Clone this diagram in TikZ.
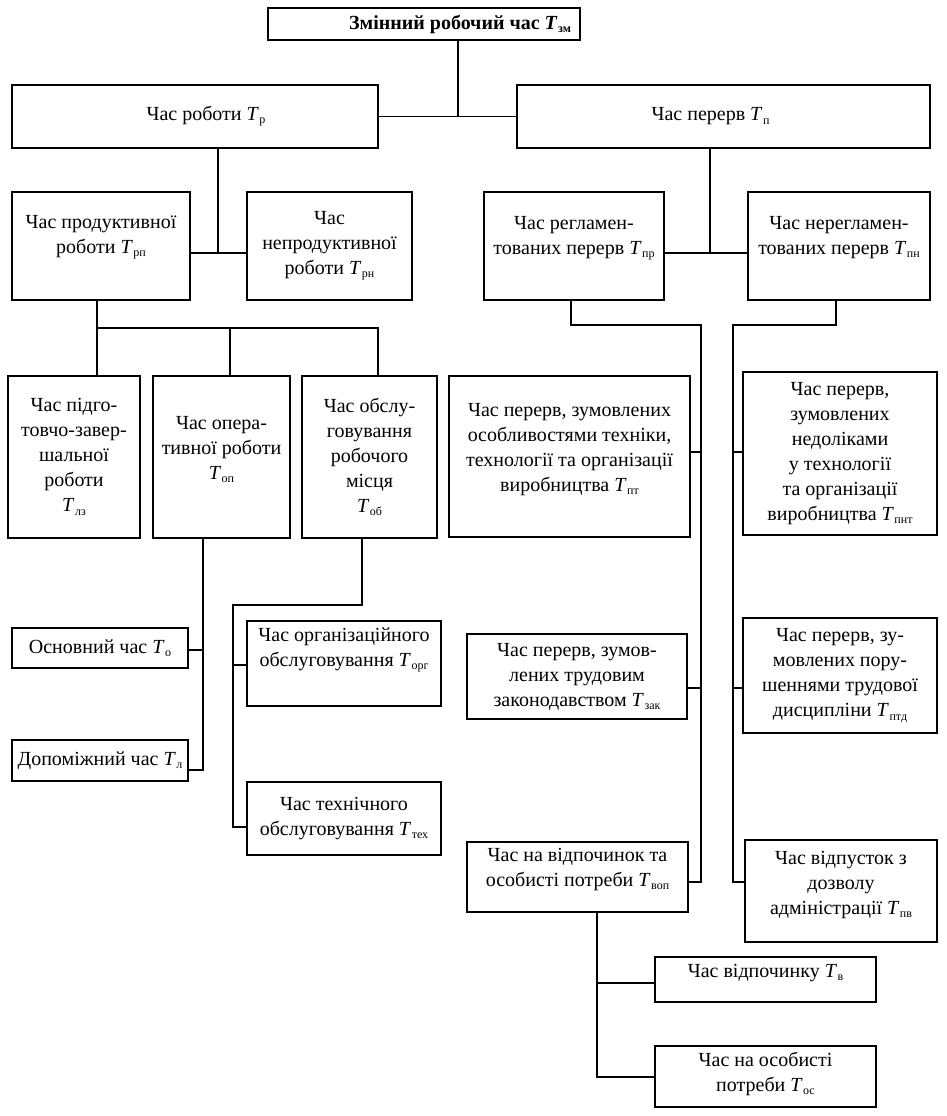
\documentclass[tikz,border=0pt]{standalone}
\usepackage{fontspec}
\setmainfont{Liberation Serif}
\newcommand{\tv}[1]{\textit{T}\kern0.5pt\raisebox{-0.35ex}{\fontsize{12}{12}\selectfont #1}}
\begin{document}
\begin{tikzpicture}[x=1pt,y=-1pt,
  box/.style={draw, line width=1.5pt, inner sep=2pt, align=center,
     font=\fontsize{20}{25}\selectfont},
  up/.style={text depth=#1},
  wire/.style={line width=1.5pt}]
\useasboundingbox[fill=white] (0,0) rectangle (947,1116);
% boxes
\node[box, minimum width=312, minimum height=32] (top) at (424,24) {\hspace*{72pt}\bfseries Змінний робочий час \tv{зм}};
\node[box, minimum width=366, minimum height=63] (rob) at (195,116.5) {\hspace*{22pt}Час роботи \tv{р}};
\node[box, minimum width=413, minimum height=63] (per) at (723.5,116.5) {Час перерв \tv{п}\hspace*{26pt}};
\node[box, up=23pt, minimum width=178, minimum height=108] (rp) at (101,246) {Час продуктивної\\роботи \tv{рп}};
\node[box, minimum width=165, minimum height=108] (rn) at (329.5,246) {Час\\непродуктивної\\роботи \tv{рн}};
\node[box, up=21pt, minimum width=180, minimum height=108] (pr) at (574,246) {Час регламен-\\тованих перерв \tv{пр}};
\node[box, up=21pt, minimum width=182, minimum height=108] (pn) at (839,246) {Час нерегламен-\\тованих перерв \tv{пн}};
\node[box, minimum width=132, minimum height=162] (pz) at (74,457) {Час підго-\\товчо-завер-\\шальної\\роботи\\\tv{лз}};
\node[box, up=19pt, minimum width=137, minimum height=162] (op) at (221.5,457) {Час опера-\\тивної роботи\\\tv{оп}};
\node[box, minimum width=135, minimum height=162] (ob) at (369.5,457) {Час обслу-\\говування\\робочого\\місця\\\tv{об}};
\node[box, up=19pt, minimum width=241, minimum height=161] (pt) at (569.5,456.5) {Час перерв, зумовлених\\особливостями техніки,\\технології та організації\\виробництва \tv{пт}};
\node[box, minimum width=194, minimum height=163] (pnt) at (840,453.5) {Час перерв,\\зумовлених\\недоліками\\у технології\\та організації\\виробництва \tv{пнт}};
\node[box, minimum width=176, minimum height=40] (o) at (100,648) {Основний час \tv{о}};
\node[box, minimum width=176, minimum height=41] (d) at (100,760.5) {Допоміжний час \tv{л}};
\node[box, up=33pt, minimum width=194, minimum height=85] (org) at (344,663.5) {Час організаційного\\обслуговування \tv{орг}};
\node[box, minimum width=194, minimum height=73] (tex) at (344,818.5) {Час технічного\\обслуговування \tv{тех}};
\node[box, minimum width=220, minimum height=85] (zak) at (577,676.5) {Час перерв, зумов-\\лених трудовим\\законодавством \tv{зак}};
\node[box, minimum width=194, minimum height=115] (ptd) at (840,675.5) {Час перерв, зу-\\мовлених пору-\\шеннями трудової\\дисципліни \tv{птд}};
\node[box, up=19pt, minimum width=221, minimum height=70] (vop) at (577.5,877) {Час на відпочинок та\\особисті потреби \tv{воп}};
\node[box, up=17pt, minimum width=192, minimum height=102] (pv) at (841,891) {Час відпусток з\\дозволу\\адміністрації \tv{пв}};
\node[box, up=18pt, minimum width=221, minimum height=45] (v) at (765.5,979.5) {Час відпочинку \tv{в}};
\node[box, up=10pt, minimum width=221, minimum height=61] (os) at (765.5,1076.5) {Час на особисті\\потреби \tv{ос}};
% junctions
\coordinate (j1) at (458,116);
\coordinate (j2) at (218,253);
\coordinate (j3) at (710,253);
\coordinate (b1) at (97,328);
\coordinate (b2) at (230,328);
\coordinate (b3) at (378,328);
\coordinate (c1) at (571,325);
\coordinate (c2) at (701,325);
\coordinate (c3) at (701,882);
\coordinate (kpt) at (701,452);
\coordinate (kzak) at (701,688);
\coordinate (e1) at (836,325);
\coordinate (e2) at (733,325);
\coordinate (e3) at (733,882);
\coordinate (kpnt) at (733,452);
\coordinate (kptd) at (733,688);
\coordinate (f1) at (203,770);
\coordinate (fo) at (203,650);
\coordinate (g1) at (362,605);
\coordinate (g2) at (233,605);
\coordinate (g3) at (233,827);
\coordinate (gorg) at (233,665);
\coordinate (h1) at (597,1077);
\coordinate (hv) at (597,983);
% connectors
\draw[wire] (j1 |- top.south) -- (j1);
\draw[wire] (rob.east) -- (per.west);
\draw[wire] (j2 |- rob.south) -- (j2);
\draw[wire] (rp.east |- j2) -- (rn.west |- j2);
\draw[wire] (j3 |- per.south) -- (j3);
\draw[wire] (pr.east |- j3) -- (pn.west |- j3);
\draw[wire] (b1 |- rp.south) -- (b1) -- (b3) -- (b3 |- ob.north);
\draw[wire] (b1) -- (b1 |- pz.north);
\draw[wire] (b2) -- (b2 |- op.north);
\draw[wire] (c1 |- pr.south) -- (c1) -- (c2) -- (c3) -- (vop.east |- c3);
\draw[wire] (pt.east |- kpt) -- (kpt);
\draw[wire] (zak.east |- kzak) -- (kzak);
\draw[wire] (e1 |- pn.south) -- (e1) -- (e2) -- (e3) -- (pv.west |- e3);
\draw[wire] (pnt.west |- kpnt) -- (kpnt);
\draw[wire] (ptd.west |- kptd) -- (kptd);
\draw[wire] (f1 |- op.south) -- (f1) -- (d.east |- f1);
\draw[wire] (o.east |- fo) -- (fo);
\draw[wire] (g1 |- ob.south) -- (g1) -- (g2) -- (g3) -- (tex.west |- g3);
\draw[wire] (org.west |- gorg) -- (gorg);
\draw[wire] (h1 |- vop.south) -- (h1) -- (os.west |- h1);
\draw[wire] (v.west |- hv) -- (hv);
\end{tikzpicture}
\end{document}
